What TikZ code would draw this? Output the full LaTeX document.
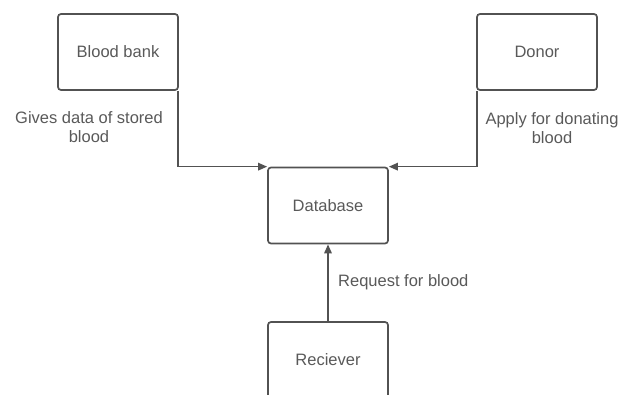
\documentclass[tikz,border=0pt]{standalone}
\usepackage{fontspec}
\setmainfont{Liberation Sans}
\usepackage{tikz}
\usetikzlibrary{arrows.meta}
\colorlet{boxgray}{black!68}
\colorlet{textgray}{black!65}

\begin{document}
\begin{tikzpicture}[x=1pt,y=-1pt,
        entity/.style={draw=boxgray, line width=1.7pt, rounded corners=3pt,
            minimum width=120pt, minimum height=76pt, text=textgray,
            font=\fontsize{16.5}{19}\selectfont},
        flow/.style={draw=boxgray, line width=1.5pt,
            -{Triangle[length=9pt,width=7.5pt]}},
        note/.style={text=textgray, align=center, inner sep=0pt,
            font=\fontsize{16.5}{19.5}\selectfont}]
        \useasboundingbox (0,0) rectangle (619,394);
        \clip (0,0) rectangle (619,394);
        \node[entity] (bank) at (118,52) {Blood bank};
        \node[entity] (donor) at (537,52) {Donor};
        \node[entity] (db) at (328,205.5) {Database};
        \node[entity] (recv) at (328,360) {Reciever};
        \draw[flow] ([xshift=-1pt]bank.south east) |- (db.north west);
        \draw[flow] ([xshift=1pt]donor.south west) |- (db.north east);
        \draw[flow] (recv.north) -- (db.south);
        \node[note] (give) at (89,127) {Gives data of stored\\blood};
        \node[note] (apply) at (552,128) {Apply for donating\\blood};
        \node[note, anchor=west] (req) at (338,282) {Request for blood};
    \end{tikzpicture}
\end{document}
